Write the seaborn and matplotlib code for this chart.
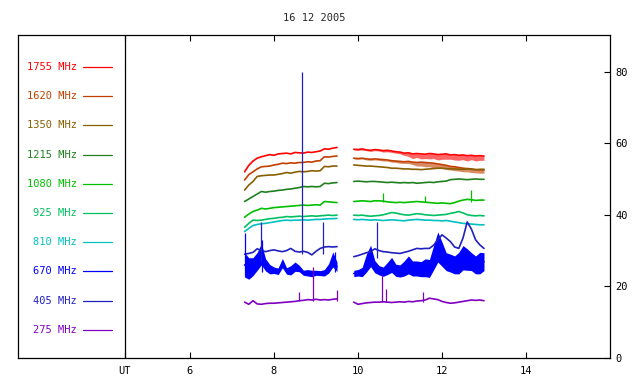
import numpy as np
import seaborn as sns
import matplotlib
matplotlib.use("Agg")
import matplotlib.pyplot as plt

# -----------------------------
# data
# -----------------------------
t_a = [7.3, 7.4, 7.5, 7.6, 7.7, 7.8, 7.9, 8.0, 8.1, 8.2, 8.3, 8.4,
       8.5, 8.6, 8.7, 8.8, 8.9, 9.0, 9.1, 9.2, 9.3, 9.4, 9.5]
t_b = [9.9, 10.0, 10.1, 10.2, 10.3, 10.4, 10.5, 10.6, 10.7, 10.8, 10.9,
       11.0, 11.1, 11.2, 11.3, 11.4, 11.5, 11.6, 11.7, 11.8, 11.9, 12.0,
       12.1, 12.2, 12.3, 12.4, 12.5, 12.6, 12.7, 12.8, 12.9, 13.0]

freqs = ["1755", "1620", "1350", "1215", "1080", "925", "810", "670", "405", "275"]
colors = ["#ff0000", "#c04000", "#886000", "#208020", "#00c000",
          "#00c060", "#00c0c0", "#0000ff", "#2020c0", "#8000c0"]

f1755_a = [52.0, 53.8, 55.0, 55.8, 56.2, 56.5, 56.8, 56.6, 57.0, 57.1, 57.2, 57.0,
           57.4, 57.3, 57.2, 57.5, 57.4, 57.6, 57.8, 58.4, 58.3, 58.6, 58.8]
f1755_b = [58.3, 58.2, 58.4, 58.1, 58.0, 58.2, 58.1, 57.9, 58.0, 57.8, 57.6, 57.5,
           57.2, 57.3, 57.0, 57.1, 57.0, 56.9, 57.1, 57.0, 56.8, 56.9, 57.0, 56.7,
           56.8, 56.6, 56.7, 56.5, 56.6, 56.4, 56.5, 56.4]
f1755_dip = [0.2, 0.2, 0.3, 0.2, 0.3, 0.3, 0.3, 0.4, 0.4, 0.4, 0.4, 0.5,
             0.6, 1.0, 1.3, 1.1, 1.4, 1.2, 1.5, 1.3, 1.5, 1.4, 1.5, 1.2,
             1.5, 1.4, 1.3, 1.5, 1.2, 1.4, 1.3, 1.2]

f1620_a = [49.7, 51.2, 52.0, 52.8, 53.4, 53.5, 53.6, 53.9, 54.1, 54.4, 54.3, 54.5,
           54.4, 54.6, 54.6, 54.8, 54.7, 55.0, 55.1, 56.2, 56.1, 56.3, 56.4]
f1620_b = [55.8, 55.7, 55.8, 55.6, 55.5, 55.6, 55.5, 55.4, 55.3, 55.1, 55.0, 54.9,
           54.8, 54.9, 54.7, 54.6, 54.7, 54.6, 54.5, 54.4, 54.2, 54.0, 53.8, 53.5,
           53.4, 53.2, 53.0, 52.9, 52.8, 52.6, 52.5, 52.5]
f1620_dip = [0.2, 0.2, 0.2, 0.3, 0.3, 0.3, 0.3, 0.4, 0.3, 0.4, 0.4, 0.5,
             0.5, 0.6, 0.7, 1.0, 1.1, 1.2, 1.1, 1.3, 1.2, 1.1, 1.2, 1.0,
             1.1, 1.0, 1.0, 0.9, 1.0, 0.9, 0.9, 0.9]

f1350_a = [46.9, 48.3, 49.3, 50.7, 50.9, 51.0, 51.1, 51.1, 51.3, 51.5, 51.8, 51.6,
           51.9, 52.1, 52.0, 52.1, 52.3, 52.2, 52.3, 53.5, 53.4, 53.6, 53.6]
f1350_b = [53.9, 53.8, 53.7, 53.6, 53.6, 53.5, 53.4, 53.3, 53.2, 53.0, 53.0, 52.9,
           52.8, 52.8, 52.7, 52.7, 52.6, 52.7, 52.8, 52.9, 53.0, 53.0, 52.9, 52.8,
           52.8, 52.7, 52.7, 52.8, 52.7, 52.6, 52.7, 52.7]

f1215_a = [43.7, 44.4, 45.1, 45.8, 46.5, 46.3, 46.5, 46.6, 46.8, 46.9, 47.1, 47.2,
           47.4, 47.6, 47.9, 47.8, 47.9, 47.8, 47.9, 48.8, 48.7, 48.9, 49.0]
f1215_b = [49.3, 49.4, 49.3, 49.2, 49.3, 49.3, 49.2, 49.1, 49.0, 49.1, 49.0, 48.9,
           49.0, 48.9, 49.0, 48.8, 48.9, 49.0, 49.1, 49.0, 49.2, 49.3, 49.4, 49.8,
           49.9, 50.0, 49.9, 49.8, 49.9, 50.0, 49.9, 49.9]

f1080_a = [39.3, 40.2, 40.9, 41.3, 41.8, 41.6, 41.8, 42.0, 42.1, 42.2, 42.3, 42.4,
           42.5, 42.6, 42.7, 42.6, 42.7, 42.8, 42.7, 43.7, 43.6, 43.5, 43.4]
f1080_b = [43.7, 43.8, 43.9, 43.8, 43.7, 43.9, 43.9, 43.8, 43.6, 43.5, 43.4, 43.5,
           43.4, 43.5, 43.6, 43.7, 43.6, 43.5, 43.4, 43.3, 43.2, 43.3, 43.2, 43.1,
           43.4, 43.8, 44.1, 44.3, 44.2, 44.0, 44.1, 44.1]

f925_a = [36.5, 37.6, 38.5, 38.4, 38.5, 38.7, 38.9, 39.0, 39.2, 39.3, 39.5, 39.4,
          39.5, 39.6, 39.5, 39.6, 39.7, 39.6, 39.7, 39.8, 39.9, 39.8, 39.9]
f925_b = [39.9, 39.8, 39.9, 39.7, 39.6, 39.7, 39.8, 40.0, 40.3, 40.6, 40.5, 40.2,
          40.0, 39.9, 40.1, 40.3, 40.2, 40.0, 39.9, 39.8, 39.9, 40.0, 40.1, 40.4,
          40.6, 40.9, 40.5, 40.0, 39.8, 39.7, 39.8, 39.7]

f810_a = [35.3, 36.2, 37.0, 37.3, 37.5, 37.6, 37.8, 38.0, 38.2, 38.4, 38.5, 38.4,
          38.5, 38.5, 38.6, 38.5, 38.6, 38.7, 38.7, 38.8, 38.9, 38.9, 39.0]
f810_b = [38.7, 38.6, 38.7, 38.6, 38.5, 38.6, 38.5, 38.4, 38.5, 38.6, 38.5, 38.4,
          38.3, 38.5, 38.6, 38.7, 38.6, 38.5, 38.5, 38.4, 38.4, 38.3, 38.4, 38.2,
          38.0, 37.8, 37.6, 37.5, 37.4, 37.3, 37.2, 37.2]

f670_a = [26.0, 25.0, 25.5, 27.0, 29.0, 26.0, 24.8, 24.5, 24.2, 26.5, 24.3, 24.5,
          25.5, 25.0, 23.8, 23.8, 23.6, 23.8, 23.7, 23.8, 25.0, 27.5, 25.5]
f670_a_spread = [3.4, 3.0, 2.5, 2.5, 3.0, 1.7, 1.3, 0.9, 0.9, 1.3, 0.9, 1.3,
                 1.3, 0.9, 0.7, 0.9, 0.9, 0.7, 0.7, 0.9, 1.3, 2.1, 1.3]
f670_b = [23.6, 23.8, 24.0, 26.5, 28.5, 25.5, 24.5, 24.1, 25.0, 26.0, 24.5, 24.3,
          25.0, 26.0, 25.0, 25.0, 24.8, 25.2, 25.0, 28.0, 31.0, 29.0, 26.9, 26.5,
          26.0, 26.5, 28.0, 27.5, 26.9, 26.0, 26.5, 26.9]
f670_b_spread = [0.9, 0.9, 1.3, 2.5, 3.0, 1.7, 1.3, 1.3, 1.7, 2.1, 1.7, 1.7,
                 2.1, 2.5, 2.1, 2.1, 2.1, 2.5, 2.5, 3.4, 4.2, 3.4, 2.5, 2.5,
                 2.5, 3.0, 3.4, 3.0, 2.5, 2.5, 3.0, 2.5]

f405_a = [29.0, 29.2, 29.5, 30.5, 30.0, 29.7, 30.0, 30.2, 29.9, 29.7, 30.0, 30.6,
          29.8, 29.6, 29.8, 29.5, 28.8, 29.8, 30.6, 31.0, 31.1, 31.0, 31.1]
f405_b = [28.3, 28.6, 29.0, 29.4, 29.7, 30.5, 30.0, 29.7, 29.6, 29.4, 29.3, 29.2,
          29.5, 29.8, 30.2, 30.6, 30.5, 30.6, 30.6, 31.5, 33.0, 34.4, 33.5, 32.5,
          31.0, 30.6, 33.5, 38.0, 36.0, 33.0, 31.6, 30.6]

f275_a = [15.6, 15.0, 16.0, 15.1, 15.0, 15.2, 15.3, 15.3, 15.4, 15.5, 15.6, 15.7,
          15.8, 16.0, 16.1, 16.3, 16.2, 16.4, 16.2, 16.3, 16.2, 16.4, 16.5]
f275_b = [15.6, 15.0, 15.2, 15.4, 15.5, 15.6, 15.6, 15.7, 15.6, 15.5, 15.6, 15.7,
          15.6, 15.8, 15.7, 15.9, 16.0, 16.2, 16.7, 16.5, 16.3, 15.8, 15.5, 15.3,
          15.4, 15.6, 15.8, 16.0, 16.2, 16.1, 16.2, 16.0]

# single-sample spikes: time, bottom, top
spk405_t = [7.68, 8.67, 9.16, 10.45]
spk405_lo = [27.0, 29.0, 29.0, 28.0]
spk405_hi = [38.0, 80.0, 38.0, 38.0]
spk670_t = [7.31, 7.72, 9.45]
spk670_lo = [23.0, 24.0, 24.0]
spk670_hi = [35.0, 33.0, 29.5]
spk1080_t = [10.59, 11.6, 12.7]
spk1080_lo = [43.5, 43.5, 43.5]
spk1080_hi = [46.0, 45.2, 46.9]
spk275_t = [8.6, 8.92, 9.5, 10.56, 10.66, 11.54]
spk275_lo = [15.8, 16.0, 16.0, 15.5, 15.5, 15.5]
spk275_hi = [18.5, 25.5, 19.0, 23.2, 19.3, 18.5]

ut_pos = 4.45

# -----------------------------
# plot
# -----------------------------
sns.set_style("white")
plt.rcParams['font.family'] = ['DejaVu Sans Mono', 'DejaVu Sans']

fig = plt.figure(figsize=(6.4, 3.84), dpi=100)
ax = fig.add_axes([18 / 640, 26 / 384, 592 / 640, 323 / 384])

series = [(f1755_a, f1755_b), (f1620_a, f1620_b), (f1350_a, f1350_b),
          (f1215_a, f1215_b), (f1080_a, f1080_b), (f925_a, f925_b),
          (f810_a, f810_b), (f670_a, f670_b), (f405_a, f405_b), (f275_a, f275_b)]

lw = 0.9
lw_data = 1.2
for (va, vb), c in zip(series, colors):
    sns.lineplot(x=t_a, y=va, color=c, lw=lw_data, ax=ax, errorbar=None)
    sns.lineplot(x=t_b, y=vb, color=c, lw=lw_data, ax=ax, errorbar=None)

# noisy envelopes
ax.fill_between(t_b, np.array(f1755_b) - np.array(f1755_dip), f1755_b,
                color=colors[0], lw=0, alpha=0.6)
ax.fill_between(t_b, np.array(f1620_b) - np.array(f1620_dip), f1620_b,
                color=colors[1], lw=0, alpha=0.6)
ax.fill_between(t_a, np.array(f670_a) - np.array(f670_a_spread),
                np.array(f670_a) + np.array(f670_a_spread), color=colors[7], lw=0)
ax.fill_between(t_b, np.array(f670_b) - np.array(f670_b_spread),
                np.array(f670_b) + np.array(f670_b_spread), color=colors[7], lw=0)

ax.vlines(spk405_t, spk405_lo, spk405_hi, color=colors[8], lw=lw)
ax.vlines(spk670_t, spk670_lo, spk670_hi, color=colors[7], lw=lw)
ax.vlines(spk1080_t, spk1080_lo, spk1080_hi, color=colors[4], lw=lw)
ax.vlines(spk275_t, spk275_lo, spk275_hi, color=colors[9], lw=lw)

# legend panel on the left
for i, (f, c) in enumerate(zip(freqs, colors)):
    y = 81.3 - i * 8.16
    ax.text(3.31, y, f"{f} MHz", color=c, fontsize=7.5, ha="right", va="center")
    ax.plot([3.45, 4.14], [y, y], color=c, lw=lw)

ax.axvline(ut_pos, color="black", lw=0.9)

ax.set_xlim(1.905, 16.0)
ax.set_ylim(0, 90.2)
ax.set_xticks([ut_pos, 6, 8, 10, 12, 14])
ax.set_xticklabels(["UT", "6", "8", "10", "12", "14"])
ax.yaxis.tick_right()
ax.set_yticks([0, 20, 40, 60, 80])
ax.tick_params(axis="x", direction="in", length=4, width=0.8, top=True,
               bottom=True, labelsize=7.5, pad=6, colors="black")
ax.tick_params(axis="y", direction="in", length=4, width=0.8, right=True,
               left=False, labelsize=7.5, pad=4, colors="black")
for s in ax.spines.values():
    s.set_color("black")
    s.set_linewidth(0.9)
    s.set_visible(True)

fig.text(314 / 640, 1 - 18 / 384, "16 12 2005", fontsize=7.5, ha="center", va="center")

plt.savefig("out.png", dpi=100)
